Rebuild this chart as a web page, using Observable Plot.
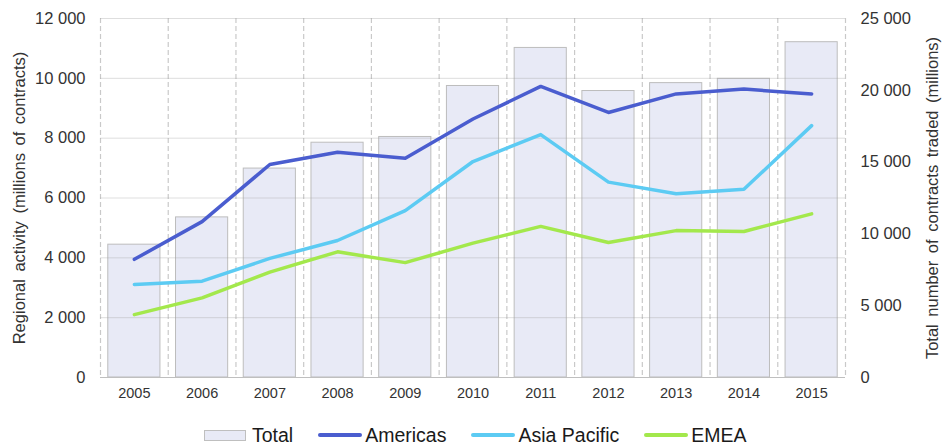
<!DOCTYPE html>
<html>
<head>
<meta charset="utf-8">
<script src="https://cdn.jsdelivr.net/npm/d3@7"></script>
<script src="https://cdn.jsdelivr.net/npm/@observablehq/plot@0.6"></script>
<style>
  html, body { margin: 0; padding: 0; background: #fff; }
  body { width: 942px; height: 447px; overflow: hidden; font-family: "Liberation Sans", Arial, sans-serif; }
  #legend { display: flex; justify-content: flex-start; align-items: center; height: 50px; padding-left: 204px; font-size: 19.5px; color: #1a1a1a; box-sizing: border-box; }
  .item { display: flex; align-items: center; margin-right: 25px; }
  .sw-rect { width: 40px; height: 9px; background: #e8eaf6; border: 1px solid #bfbfbf; margin-right: 6px; }
  .sw-line { width: 44px; height: 4px; border-radius: 2px; margin-right: 3px; }
</style>
</head>
<body>
<div id="chart"></div>
<div id="legend"></div>
<script>
const years = ["2005","2006","2007","2008","2009","2010","2011","2012","2013","2014","2015"];
const total = [9250, 11150, 14550, 16350, 16750, 20300, 22950, 19950, 20500, 20800, 23350];
const americas = [3950, 5210, 7120, 7530, 7330, 8640, 9730, 8860, 9480, 9640, 9480];
const asiaPacific = [3110, 3220, 3980, 4580, 5580, 7220, 8120, 6530, 6140, 6290, 8420];
const emea = [2100, 2660, 3520, 4200, 3840, 4490, 5050, 4510, 4910, 4880, 5470];
const leftTicks = [0, 2000, 4000, 6000, 8000, 10000, 12000];
const rightTicks = [0, 5000, 10000, 15000, 20000, 25000];
const leftTitle = "Regional activity (millions of contracts)";
const rightTitle = "Total number of contracts traded (millions)";
const leftMax = 12000, rightMax = 25000;
const k = leftMax / rightMax;

const series = [
  {name: "Americas", values: americas, color: "#4a5dcf"},
  {name: "Asia Pacific", values: asiaPacific, color: "#5ccbf3"},
  {name: "EMEA", values: emea, color: "#a3e84c"}
];

const bars = years.map((y, i) => ({i, year: y, total: total[i]}));
const lineData = series.flatMap(s => s.values.map((v, i) => ({i, name: s.name, value: v})));
const bounds = d3.range(years.length + 1).map(i => i - 0.5);
const fmt = v => d3.format(",")(Math.round(v)).replace(/,/g, " ");

const chart = Plot.plot({
  width: 942,
  height: 410,
  marginLeft: 100,
  marginRight: 97,
  marginTop: 18,
  marginBottom: 33,
  style: {fontFamily: "'Liberation Sans', Arial, sans-serif", fontSize: "13px", color: "#333"},
  x: {domain: [-0.5, years.length - 0.5]},
  y: {domain: [0, leftMax]},
  color: {domain: series.map(s => s.name), range: series.map(s => s.color)},
  marks: [
    Plot.ruleX(bounds, {x: d => d, stroke: "#c9c9c9", strokeDasharray: "5,3", strokeWidth: 1.2}),
    Plot.rect(bars, {x1: d => d.i - 0.385, x2: d => d.i + 0.385, y1: 0, y2: d => d.total * k, fill: "#e8eaf6", stroke: "#bdbdbd", strokeWidth: 1}),
    Plot.ruleY(leftTicks, {y: d => d, stroke: "#a0a0a0", strokeOpacity: 0.35}),
    Plot.ruleY([0], {stroke: "#bfbfbf"}),
    Plot.line(lineData, {x: "i", y: "value", z: "name", stroke: "name", strokeWidth: 3.5, strokeLinejoin: "round", strokeLinecap: "round"}),
    Plot.axisX(d3.range(years.length), {tickSize: 0, tickPadding: 10, tickFormat: i => years[i], fontSize: 14.5, label: null}),
    Plot.axisY(leftTicks, {anchor: "left", tickSize: 0, tickPadding: 15, tickFormat: fmt, fontSize: 16.5, label: null}),
    Plot.axisY(rightTicks.map(v => v * k), {anchor: "right", tickSize: 0, tickPadding: 15, tickFormat: v => fmt(v / k), fontSize: 16.5, label: null}),
    Plot.text([leftTitle], {text: d => d, frameAnchor: "left", rotate: -90, textAnchor: "middle", lineAnchor: "middle", dx: -81, fontSize: 16.5, fill: "#333"}),
    Plot.text([rightTitle], {text: d => d, frameAnchor: "right", rotate: -90, textAnchor: "middle", lineAnchor: "middle", dx: 87, fontSize: 16.5, fill: "#333"})
  ]
});
chart.querySelectorAll("text").forEach(t => {
  if (t.textContent === leftTitle || t.textContent === rightTitle) t.style.wordSpacing = "3px";
});
document.getElementById("chart").appendChild(chart);

const legend = document.getElementById("legend");
const tItem = document.createElement("div");
tItem.className = "item";
tItem.innerHTML = `<span class="sw-rect"></span><span>Total</span>`;
legend.appendChild(tItem);
series.forEach(s => {
  const it = document.createElement("div");
  it.className = "item";
  it.innerHTML = `<span class="sw-line" style="background:${s.color}"></span><span>${s.name}</span>`;
  legend.appendChild(it);
});
</script>
</body>
</html>
